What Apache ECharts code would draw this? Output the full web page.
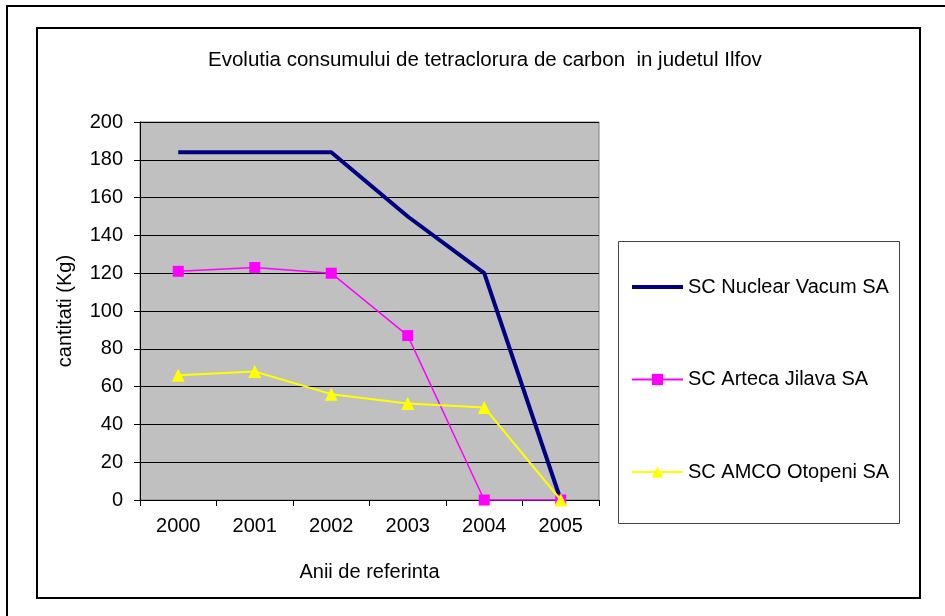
<!DOCTYPE html>
<html>
<head>
<meta charset="utf-8">
<script src="https://cdn.jsdelivr.net/npm/echarts@6/dist/echarts.min.js"></script>
<style>
html,body{margin:0;padding:0;background:#fff;}
#chart{width:945px;height:616px;}
</style>
</head>
<body>
<div id="chart"></div>
<script>
var categories = ['2000', '2001', '2002', '2003', '2004', '2005'];
var nuclearVacum = [184, 184, 184, 150, 120, 0];
var artecaJilava = [121, 123, 120, 87, 0, 0];
var amcoOtopeni = [66, 68, 56, 51, 49, 0];
var seriesNames = ['SC Nuclear Vacum SA', 'SC Arteca Jilava SA', 'SC AMCO Otopeni SA'];
var titleText = 'Evolutia consumului de tetraclorura de carbon  in judetul Ilfov';
var xAxisName = 'Anii de referinta';
var yAxisName = 'cantitati (Kg)';

var FONT = "'Liberation Sans', Arial, sans-serif";
var chart = echarts.init(document.getElementById('chart'), null, {renderer: 'canvas'});
chart.setOption({
  backgroundColor: '#ffffff',
  animation: false,
  textStyle: {fontFamily: FONT, color: '#000'},
  title: {
    text: titleText,
    left: 203,
    top: 45,
    textStyle: {fontFamily: FONT, fontSize: 20.5, fontWeight: 'normal', color: '#000'}
  },
  graphic: [
    {type: 'rect', shape: {x: 7, y: 6, width: 960, height: 640}, style: {fill: 'none', stroke: '#000', lineWidth: 2}, silent: true},
    {type: 'rect', shape: {x: 37, y: 28, width: 883, height: 570}, style: {fill: 'none', stroke: '#000', lineWidth: 2}, silent: true},
    {type: 'rect', shape: {x: 618.5, y: 241.5, width: 281, height: 282}, style: {fill: 'none', stroke: '#444', lineWidth: 1}, silent: true}
  ],
  grid: {
    left: 140, top: 122, right: 945 - 599, bottom: 616 - 500,
    show: true, backgroundColor: '#c0c0c0', borderColor: '#808080', borderWidth: 1,
    containLabel: false
  },
  legend: {
    orient: 'vertical',
    left: 630, top: 277,
    itemWidth: 51, itemHeight: 14, itemGap: 72.5,
    padding: 0,
    textStyle: {fontFamily: FONT, fontSize: 20, color: '#000'},
    data: [
      {name: seriesNames[0], itemStyle: {opacity: 0}, lineStyle: {width: 4, color: '#000080'}},
      {name: seriesNames[1]},
      {name: seriesNames[2]}
    ]
  },
  xAxis: {
    type: 'category',
    data: categories,
    boundaryGap: true,
    name: xAxisName,
    nameLocation: 'middle',
    nameGap: 62,
    nameTextStyle: {fontFamily: FONT, fontSize: 20, color: '#000'},
    axisLine: {lineStyle: {color: '#000', width: 1}},
    axisTick: {show: true, length: 6, lineStyle: {color: '#000'}},
    axisLabel: {fontFamily: FONT, fontSize: 20, color: '#000', margin: 16},
    splitLine: {show: false}
  },
  yAxis: {
    type: 'value',
    min: 0, max: 200, interval: 20,
    name: yAxisName,
    nameLocation: 'middle',
    nameGap: 65,
    nameTextStyle: {fontFamily: FONT, fontSize: 20, color: '#000'},
    axisLine: {show: true, lineStyle: {color: '#000', width: 1}},
    axisTick: {show: true, length: 6, lineStyle: {color: '#000'}},
    axisLabel: {fontFamily: FONT, fontSize: 20, color: '#000', margin: 17},
    splitLine: {show: true, lineStyle: {color: '#000', width: 1}}
  },
  series: [
    {
      name: seriesNames[0], type: 'line', data: nuclearVacum,
      symbol: 'none',
      lineStyle: {color: '#000080', width: 4},
      itemStyle: {color: '#000080'},
      z: 2
    },
    {
      name: seriesNames[1], type: 'line', data: artecaJilava,
      symbol: 'rect', symbolSize: 11,
      lineStyle: {color: '#ff00ff', width: 1.5},
      itemStyle: {color: '#ff00ff'},
      z: 3
    },
    {
      name: seriesNames[2], type: 'line', data: amcoOtopeni,
      symbol: 'triangle', symbolSize: 13,
      lineStyle: {color: '#ffff00', width: 2},
      itemStyle: {color: '#ffff00'},
      z: 4
    }
  ]
});
</script>
</body>
</html>
